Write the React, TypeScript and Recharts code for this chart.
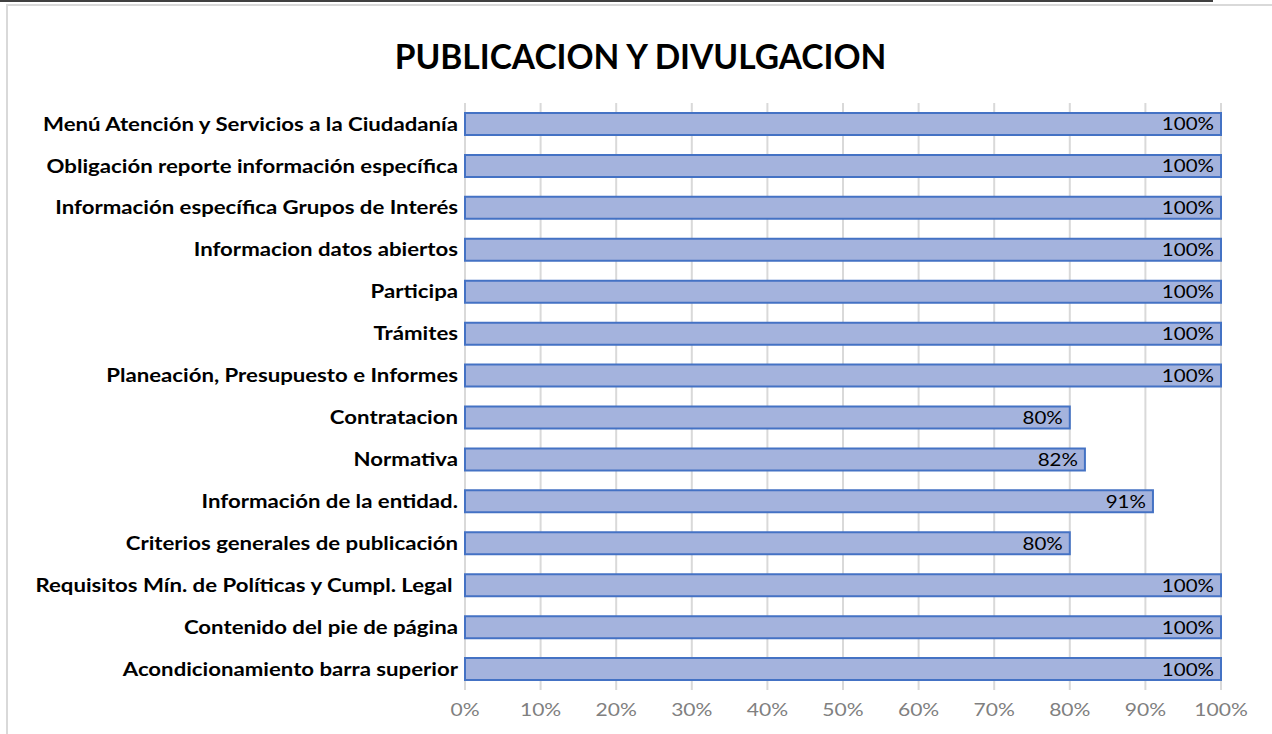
import React from "react";
import {
  BarChart,
  Bar,
  XAxis,
  YAxis,
  CartesianGrid,
  LabelList,
} from "recharts";

const categories = [
  "Menú Atención y Servicios a la Ciudadanía",
  "Obligación reporte información específica",
  "Información específica Grupos de Interés",
  "Informacion datos abiertos",
  "Participa",
  "Trámites",
  "Planeación, Presupuesto e Informes",
  "Contratacion",
  "Normativa",
  "Información de la entidad.",
  "Criterios generales de publicación",
  "Requisitos Mín. de Políticas y Cumpl. Legal\u00a0",
  "Contenido del pie de página",
  "Acondicionamiento barra superior",
];

const values = [100, 100, 100, 100, 100, 100, 100, 80, 82, 91, 80, 100, 100, 100];

const xTicks = [0, 10, 20, 30, 40, 50, 60, 70, 80, 90, 100];

const data = categories.map((name, i) => ({ name, value: values[i] }));

const FONT = "Lato, 'Open Sans', sans-serif";

// the reference text is a bit wider than Lato, so stretch it horizontally
const CatTick = (props: any) => {
  const { x, y, payload } = props;
  return (
    <text
      transform={`translate(${x},${y}) scale(1.2,1)`}
      textAnchor="end"
      dy="0.36em"
      fill="#000"
      fontSize={18.5}
      fontWeight={700}
      fontFamily={FONT}
      style={{ whiteSpace: "pre" }}
    >
      {payload.value}
    </text>
  );
};

const PctTick = (props: any) => {
  const { x, y, payload } = props;
  return (
    <text
      transform={`translate(${x},${y}) scale(1.17,1)`}
      textAnchor="middle"
      dy="0.71em"
      fill="#808080"
      fontSize={18}
      fontFamily={FONT}
    >
      {`${payload.value}%`}
    </text>
  );
};

const ValueLabel = (props: any) => {
  const { x, y, width, height, value } = props;
  return (
    <text
      transform={`translate(${x + width - 7},${y + height / 2}) scale(1.14,1)`}
      textAnchor="end"
      dy="0.36em"
      fill="#000"
      fontSize={18}
      fontFamily={FONT}
    >
      {`${value}%`}
    </text>
  );
};

export default function App() {
  return (
    <div
      style={{
        position: "absolute",
        left: 0,
        top: 0,
        width: 1272,
        height: 734,
        background: "#fff",
        overflow: "hidden",
        fontFamily: FONT,
      }}
    >
      {/* cut-off line from the page above */}
      <div
        style={{
          position: "absolute",
          left: 0,
          top: 0,
          width: 1213,
          height: 2,
          background: "#404040",
        }}
      />
      {/* chart area border */}
      <div
        style={{
          position: "absolute",
          left: 6,
          top: 4,
          width: 1300,
          height: 800,
          borderTop: "2px solid #d9d9d9",
          borderLeft: "2px solid #d9d9d9",
        }}
      />
      <div
        style={{
          position: "absolute",
          left: 0,
          top: 36,
          width: 1281,
          textAlign: "center",
          fontSize: 33.5,
          fontWeight: 700,
          color: "#000",
        }}
      >
        PUBLICACION Y DIVULGACION
      </div>
      <div style={{ position: "absolute", left: 0, top: 0 }}>
        <BarChart
          width={1272}
          height={734}
          data={data}
          layout="vertical"
          margin={{ top: 103, right: 51, bottom: 0, left: 0 }}
          barSize={22}
        >
          <CartesianGrid horizontal={false} stroke="#d9d9d9" strokeWidth={2} />
          <XAxis
            type="number"
            dataKey="value"
            domain={[0, 100]}
            ticks={xTicks}
            axisLine={false}
            tickLine={false}
            height={44}
            tickMargin={7}
            tick={<PctTick />}
          />
          <YAxis
            type="category"
            dataKey="name"
            width={465}
            axisLine={false}
            tickLine={false}
            tickSize={0}
            tickMargin={7}
            interval={0}
            tick={<CatTick />}
          />
          <Bar
            dataKey="value"
            fill="#a4b3dd"
            stroke="#4472c4"
            strokeWidth={2}
            isAnimationActive={false}
          >
            <LabelList dataKey="value" content={<ValueLabel />} />
          </Bar>
        </BarChart>
      </div>
    </div>
  );
}
